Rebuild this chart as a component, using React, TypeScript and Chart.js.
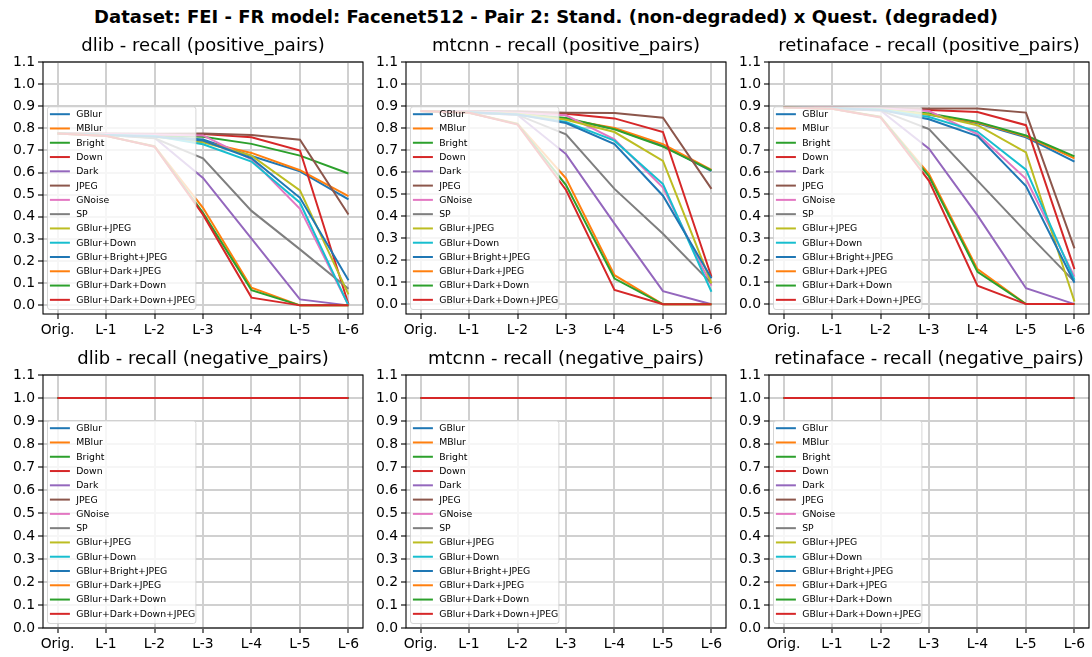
import React, { useEffect, useRef } from 'react';
import { Chart, registerables } from 'chart.js';

Chart.register(...registerables);

const SUPTITLE = 'Dataset: FEI - FR model: Facenet512 - Pair 2: Stand. (non-degraded) x Quest. (degraded)';

const SERIES = [
  'GBlur', 'MBlur', 'Bright', 'Down', 'Dark', 'JPEG', 'GNoise', 'SP',
  'GBlur+JPEG', 'GBlur+Down', 'GBlur+Bright+JPEG', 'GBlur+Dark+JPEG',
  'GBlur+Dark+Down', 'GBlur+Dark+Down+JPEG',
];

const COLORS = [
  '#1f77b4', '#ff7f0e', '#2ca02c', '#d62728', '#9467bd', '#8c564b', '#e377c2',
  '#7f7f7f', '#bcbd22', '#17becf', '#1f77b4', '#ff7f0e', '#2ca02c', '#d62728',
];

const LEVELS = ['Orig.', 'L-1', 'L-2', 'L-3', 'L-4', 'L-5', 'L-6'];
const Y_TICKS = [0.0, 0.1, 0.2, 0.3, 0.4, 0.5, 0.6, 0.7, 0.8, 0.9, 1.0, 1.1];

// dlib - recall (positive_pairs), one row per SERIES entry
const DLIB_POS = [
  [0.777, 0.772, 0.766, 0.750, 0.675, 0.606, 0.479],
  [0.777, 0.772, 0.766, 0.740, 0.689, 0.611, 0.494],
  [0.777, 0.772, 0.768, 0.762, 0.730, 0.677, 0.596],
  [0.777, 0.775, 0.772, 0.774, 0.760, 0.700, 0.005],
  [0.777, 0.770, 0.758, 0.576, 0.302, 0.027, 0.000],
  [0.777, 0.777, 0.776, 0.777, 0.770, 0.749, 0.411],
  [0.777, 0.775, 0.772, 0.768, 0.660, 0.436, 0.000],
  [0.777, 0.770, 0.755, 0.665, 0.427, 0.253, 0.075],
  [0.777, 0.770, 0.762, 0.737, 0.677, 0.520, 0.050],
  [0.777, 0.770, 0.765, 0.728, 0.650, 0.464, 0.000],
  [0.777, 0.770, 0.762, 0.745, 0.665, 0.486, 0.114],
  [0.777, 0.766, 0.720, 0.441, 0.080, 0.000, 0.000],
  [0.777, 0.766, 0.718, 0.418, 0.069, 0.000, 0.000],
  [0.777, 0.766, 0.717, 0.410, 0.035, 0.000, 0.000],
];

// mtcnn - recall (positive_pairs)
const MTCNN_POS = [
  [0.878, 0.872, 0.865, 0.840, 0.797, 0.720, 0.605],
  [0.878, 0.872, 0.865, 0.840, 0.800, 0.727, 0.610],
  [0.878, 0.872, 0.866, 0.846, 0.795, 0.716, 0.608],
  [0.878, 0.875, 0.872, 0.865, 0.844, 0.782, 0.125],
  [0.878, 0.870, 0.860, 0.682, 0.366, 0.060, 0.000],
  [0.878, 0.877, 0.876, 0.870, 0.868, 0.847, 0.524],
  [0.878, 0.875, 0.870, 0.858, 0.749, 0.530, 0.085],
  [0.878, 0.870, 0.860, 0.772, 0.524, 0.320, 0.095],
  [0.878, 0.872, 0.865, 0.838, 0.782, 0.651, 0.095],
  [0.878, 0.872, 0.862, 0.828, 0.743, 0.546, 0.057],
  [0.878, 0.872, 0.862, 0.823, 0.727, 0.493, 0.118],
  [0.878, 0.870, 0.820, 0.572, 0.132, 0.000, 0.000],
  [0.878, 0.870, 0.818, 0.541, 0.117, 0.000, 0.000],
  [0.878, 0.870, 0.816, 0.519, 0.065, 0.000, 0.000],
];

// retinaface - recall (positive_pairs)
const RETINA_POS = [
  [0.893, 0.890, 0.886, 0.860, 0.822, 0.758, 0.647],
  [0.893, 0.890, 0.886, 0.862, 0.825, 0.762, 0.662],
  [0.893, 0.890, 0.887, 0.866, 0.828, 0.766, 0.671],
  [0.893, 0.892, 0.890, 0.882, 0.873, 0.813, 0.159],
  [0.893, 0.888, 0.880, 0.706, 0.403, 0.072, 0.000],
  [0.893, 0.893, 0.892, 0.889, 0.889, 0.870, 0.253],
  [0.893, 0.892, 0.890, 0.877, 0.772, 0.569, 0.125],
  [0.893, 0.888, 0.880, 0.795, 0.561, 0.328, 0.102],
  [0.893, 0.890, 0.885, 0.862, 0.813, 0.689, 0.012],
  [0.893, 0.890, 0.884, 0.850, 0.784, 0.611, 0.110],
  [0.893, 0.890, 0.882, 0.840, 0.763, 0.536, 0.097],
  [0.893, 0.888, 0.852, 0.591, 0.159, 0.000, 0.000],
  [0.893, 0.888, 0.850, 0.580, 0.147, 0.000, 0.000],
  [0.893, 0.888, 0.848, 0.560, 0.084, 0.000, 0.000],
];

// negative pairs: every series stays at 1.0 for all levels
const NEG_ROW = [1.0, 1.0, 1.0, 1.0, 1.0, 1.0, 1.0];
const DLIB_NEG = SERIES.map(() => NEG_ROW);
const MTCNN_NEG = SERIES.map(() => NEG_ROW);
const RETINA_NEG = SERIES.map(() => NEG_ROW);

const FONT = 'DejaVu Sans';

const frameLegendPlugin = {
  id: 'frameLegend',
  afterDatasetsDraw(chart: any) {
    const { ctx, chartArea: ca } = chart;
    ctx.save();
    ctx.strokeStyle = '#000';
    ctx.lineWidth = 1.1;
    ctx.strokeRect(ca.left, ca.top, ca.right - ca.left, ca.bottom - ca.top);
    ctx.restore();
  },
  afterDraw(chart: any) {
    const { ctx, chartArea: ca } = chart;
    const bw = 148.4;
    const bh = 202.7;
    const x0 = ca.left + 4.5;
    const y0 = ca.bottom - 4.5 - bh;
    const r = 2.5;
    ctx.save();
    ctx.beginPath();
    ctx.moveTo(x0 + r, y0);
    ctx.lineTo(x0 + bw - r, y0);
    ctx.arcTo(x0 + bw, y0, x0 + bw, y0 + r, r);
    ctx.lineTo(x0 + bw, y0 + bh - r);
    ctx.arcTo(x0 + bw, y0 + bh, x0 + bw - r, y0 + bh, r);
    ctx.lineTo(x0 + r, y0 + bh);
    ctx.arcTo(x0, y0 + bh, x0, y0 + bh - r, r);
    ctx.lineTo(x0, y0 + r);
    ctx.arcTo(x0, y0, x0 + r, y0, r);
    ctx.closePath();
    ctx.fillStyle = 'rgba(255,255,255,0.8)';
    ctx.fill();
    ctx.strokeStyle = 'rgba(204,204,204,0.8)';
    ctx.lineWidth = 1;
    ctx.stroke();
    ctx.font = `9.3px "${FONT}"`;
    ctx.textBaseline = 'middle';
    ctx.textAlign = 'left';
    SERIES.forEach((name, i) => {
      const cy = y0 + 7.4 + i * 14.28;
      ctx.strokeStyle = COLORS[i];
      ctx.lineWidth = 2;
      ctx.beginPath();
      ctx.moveTo(x0 + 2.4, cy);
      ctx.lineTo(x0 + 22.4, cy);
      ctx.stroke();
      ctx.fillStyle = '#000';
      ctx.fillText(name, x0 + 28.7, cy + 0.5);
    });
    ctx.restore();
  },
};

const AX_W = 320;
const Y_W = 43;
const X_H = 28;
const TITLE_H = 32;
const RIGHT_PAD = 8;

type PanelProps = {
  title: string;
  rows: number[][];
  axLeft: number;
  axTop: number;
  axH: number;
  yMin: number;
};

function Panel({ title, rows, axLeft, axTop, axH, yMin }: PanelProps) {
  const ref = useRef<HTMLCanvasElement | null>(null);
  const width = Y_W + AX_W + RIGHT_PAD;
  const height = TITLE_H + axH + X_H;

  useEffect(() => {
    if (!ref.current) return;
    const gridOpts = {
      color: '#d0d0d0',
      lineWidth: 2,
      tickColor: '#000',
      tickLength: 5,
      tickWidth: 1.1,
    };
    const chart = new Chart(ref.current, {
      type: 'line',
      data: {
        datasets: rows.map((row, i) => ({
          label: SERIES[i],
          data: row.map((v, j) => ({ x: j, y: v })),
          borderColor: COLORS[i],
          backgroundColor: COLORS[i],
          borderWidth: 2,
          pointRadius: 0,
          pointHoverRadius: 0,
          fill: false,
          tension: 0,
          order: SERIES.length - i,
        })),
      },
      options: {
        responsive: false,
        animation: false,
        events: [],
        layout: { padding: { left: 0, right: RIGHT_PAD, top: 0, bottom: 0 } },
        plugins: {
          legend: { display: false },
          tooltip: { enabled: false },
          title: {
            display: true,
            fullSize: false,
            text: title,
            color: '#000',
            font: { family: FONT, size: 18, weight: 'normal', lineHeight: 1.2 },
            padding: { top: 5.5, bottom: TITLE_H - 5.5 - 21.6 },
          },
        },
        scales: {
          x: {
            type: 'linear',
            min: -0.3,
            max: 6.3,
            afterBuildTicks: (s: any) => {
              s.ticks = LEVELS.map((_, i) => ({ value: i }));
            },
            afterFit: (s: any) => {
              s.height = X_H;
              s.paddingLeft = 0;
              s.paddingRight = 0;
            },
            ticks: {
              autoSkip: false,
              maxRotation: 0,
              minRotation: 0,
              padding: 3.5,
              color: '#000',
              font: { family: FONT, size: 13.9 },
              callback: (v: any) => LEVELS[Math.round(Number(v))] ?? '',
            },
            grid: gridOpts,
            border: { display: false },
          },
          y: {
            type: 'linear',
            min: yMin,
            max: 1.1,
            afterBuildTicks: (s: any) => {
              s.ticks = Y_TICKS.map((v) => ({ value: v }));
            },
            afterFit: (s: any) => {
              s.width = Y_W;
              s.paddingTop = 0;
              s.paddingBottom = 0;
            },
            ticks: {
              padding: 3,
              color: '#000',
              font: { family: FONT, size: 13.9 },
              callback: (v: any) => Number(v).toFixed(1),
            },
            grid: gridOpts,
            border: { display: false },
          },
        },
      },
      plugins: [frameLegendPlugin],
    } as any);
    return () => chart.destroy();
  }, [title, rows, yMin]);

  return (
    <canvas
      ref={ref}
      width={width}
      height={height}
      style={{
        position: 'absolute',
        left: axLeft - Y_W,
        top: axTop - TITLE_H,
        width,
        height,
      }}
    />
  );
}

const COL_LEFT = [43, 406, 769];

const PANELS = [
  { title: 'dlib - recall (positive_pairs)', rows: DLIB_POS, col: 0, axTop: 62, axH: 252, yMin: -0.039 },
  { title: 'mtcnn - recall (positive_pairs)', rows: MTCNN_POS, col: 1, axTop: 62, axH: 252, yMin: -0.044 },
  { title: 'retinaface - recall (positive_pairs)', rows: RETINA_POS, col: 2, axTop: 62, axH: 252, yMin: -0.045 },
  { title: 'dlib - recall (negative_pairs)', rows: DLIB_NEG, col: 0, axTop: 375, axH: 253, yMin: 0 },
  { title: 'mtcnn - recall (negative_pairs)', rows: MTCNN_NEG, col: 1, axTop: 375, axH: 253, yMin: 0 },
  { title: 'retinaface - recall (negative_pairs)', rows: RETINA_NEG, col: 2, axTop: 375, axH: 253, yMin: 0 },
];

export default function App() {
  useEffect(() => {
    document.body.style.margin = '0';
    document.body.style.overflow = 'hidden';
  }, []);
  return (
    <div style={{ position: 'relative', width: 1092, height: 657, background: '#fff', overflow: 'hidden' }}>
      <div
        style={{
          position: 'absolute',
          left: 0,
          top: 6,
          width: 1092,
          textAlign: 'center',
          fontFamily: FONT,
          fontWeight: 'bold',
          fontSize: 18,
          lineHeight: '22px',
          color: '#000',
        }}
      >
        {SUPTITLE}
      </div>
      {PANELS.map((p) => (
        <Panel
          key={p.title}
          title={p.title}
          rows={p.rows}
          axLeft={COL_LEFT[p.col]}
          axTop={p.axTop}
          axH={p.axH}
          yMin={p.yMin}
        />
      ))}
    </div>
  );
}
